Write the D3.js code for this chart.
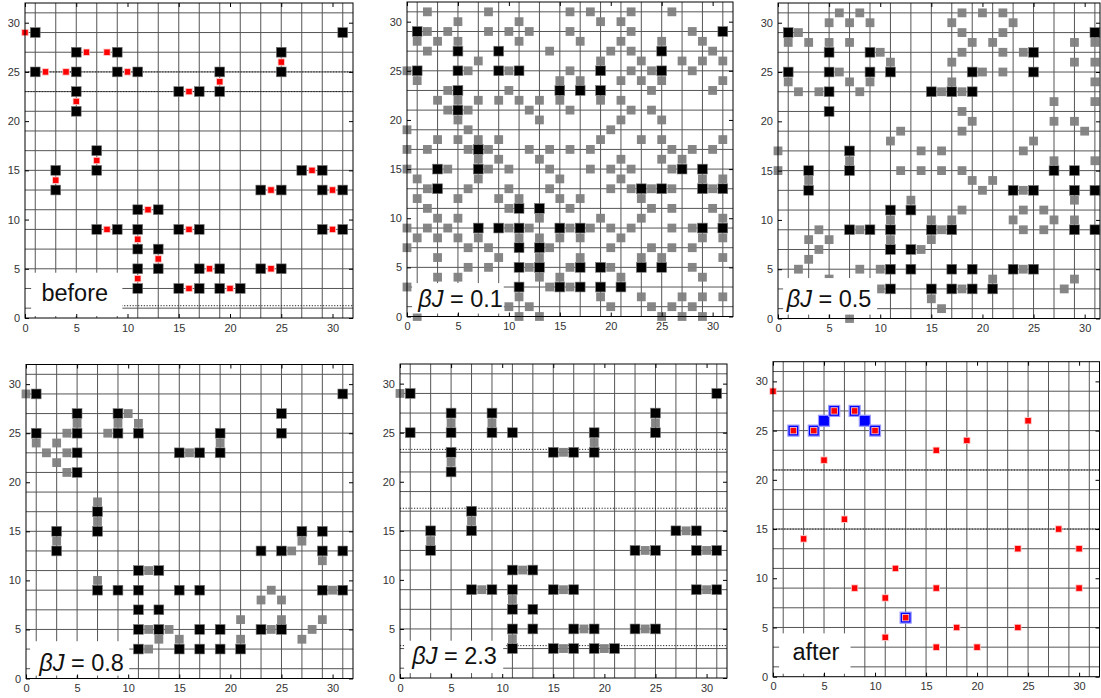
<!DOCTYPE html>
<html>
<head>
<meta charset="utf-8">
<script src="https://cdn.jsdelivr.net/npm/d3@7"></script>
<style>
  body { margin: 0; background: #fff; }
  text { font-family: "Liberation Sans", Arial, sans-serif; }
</style>
</head>
<body>
<svg id="chart" width="1101" height="698"></svg>
<script>
// ---- data ----
const ticks = [0, 5, 10, 15, 20, 25, 30];
const gridLines = [1, 3, 5, 7, 9, 11, 13, 15, 17, 19, 21, 23, 25, 27, 29, 31];

// black nodes (shared by the first five panels)
const blackNodes = [
  [1, 29], [31, 29], [5, 27], [9, 27], [25, 27], [1, 25], [5, 25], [9, 25], [11, 25], [19, 25], [25, 25],
  [5, 23], [15, 23], [17, 23], [19, 23], [5, 21], [7, 17], [3, 15], [7, 15], [27, 15], [29, 15],
  [3, 13], [23, 13], [25, 13], [29, 13], [31, 13], [11, 11], [13, 11],
  [7, 9], [9, 9], [11, 9], [15, 9], [17, 9], [29, 9], [31, 9], [11, 7], [13, 7],
  [11, 5], [13, 5], [17, 5], [19, 5], [23, 5], [25, 5], [11, 3], [15, 3], [17, 3], [19, 3], [21, 3]
];

// red sites ("before" and "after")
const redSites = [
  [0, 29], [2, 25], [4, 25], [6, 27], [8, 27], [10, 25], [5, 22], [16, 23], [19, 24], [25, 26],
  [3, 14], [7, 16], [28, 15], [24, 13], [30, 13], [12, 11], [8, 9], [16, 9], [30, 9], [11, 8],
  [13, 6], [18, 5], [24, 5], [11, 4], [16, 3], [20, 3]
];

// blue sites in "after"
const blueSites = [[2, 25], [4, 25], [5, 26], [6, 27], [8, 27], [9, 26], [10, 25], [13, 6]];

// gray sites, βJ = 0.1 (rows: y, xs)
const gray01Rows = [
  [31, [2, 8, 16, 18, 22, 26]],
  [30, [5, 11, 19, 21]],
  [29, [2, 4, 8, 10, 12, 16, 22, 28]],
  [28, [1, 3, 5, 11, 17, 21, 25, 29]],
  [27, [2, 14, 20, 22, 30]],
  [26, [7, 19, 23, 27, 29, 31]],
  [25, [0, 6, 10, 16, 22, 24, 28]],
  [24, [1, 15, 17, 21, 23, 25, 31]],
  [23, [4, 10, 24, 30]],
  [22, [3, 5, 7, 9, 11, 13, 15, 19, 21]],
  [21, [4, 6, 12, 16, 22, 24]],
  [20, [5, 13, 21, 25]],
  [19, [0, 6, 20]],
  [18, [3, 5, 7, 9, 19, 23, 25, 31]],
  [17, [0, 2, 6, 8, 12, 14, 16, 18, 26, 28, 30]],
  [16, [7, 9, 13, 21, 25, 27]],
  [15, [0, 4, 8, 10, 14, 18, 20, 22, 26]],
  [14, [1, 7, 15, 21, 29, 31]],
  [13, [2, 6, 10, 14, 20, 22, 24, 26, 30]],
  [12, [1, 5, 9, 11, 15, 17, 23]],
  [11, [2, 10, 16, 24, 26, 30]],
  [10, [3, 5, 13, 19, 23, 31]],
  [9, [0, 2, 4, 10, 12, 16, 18, 20, 22, 26, 28]],
  [8, [1, 3, 5, 7, 11, 13, 15, 17, 21, 29, 31]],
  [7, [0, 6, 8, 14, 20, 24, 26, 28]],
  [6, [3, 9, 13, 17, 23, 25, 31]],
  [5, [6, 8, 12, 16, 20, 28]],
  [4, [3, 5, 13, 15, 21, 29]],
  [3, [0, 14, 16]],
  [2, [11, 19, 23, 27, 29, 31]],
  [1, [10, 12, 20, 24, 26, 28]],
  [0, [1, 11, 13, 25, 27, 29]]
];

// gray sites, βJ = 0.5
const gray05Rows = [
  [31, [6, 8, 18, 20, 22]],
  [30, [5, 7, 9, 17, 23]],
  [29, [2, 18, 22]],
  [28, [1, 3, 5, 7, 19, 21, 29, 31]],
  [27, [10, 18, 22, 24]],
  [26, [11, 17, 29, 31]],
  [25, [6, 20, 22]],
  [24, [1, 7, 9, 17, 31]],
  [23, [2, 4, 8, 16, 18]],
  [22, [27, 31]],
  [21, [18]],
  [20, [19, 27, 29]],
  [19, [12, 18, 30]],
  [18, [11, 25]],
  [17, [0, 14, 16, 24]],
  [16, [7, 27, 31]],
  [15, [0, 12, 14, 16, 18]],
  [14, [3, 19, 21]],
  [13, [20, 24]],
  [12, [13, 29]],
  [11, [18, 24, 26]],
  [10, [11, 15, 17, 23, 27, 29]],
  [9, [4, 8, 16, 24, 26]],
  [8, [3, 5, 11, 15]],
  [7, [4, 14]],
  [6, [3]],
  [5, [2, 8, 10, 24]],
  [4, [5, 21, 29]],
  [3, [10, 18, 28]],
  [2, [15]],
  [1, [16]],
  [0, [7]]
];

// gray sites, βJ = 0.8
const gray08 = [
  [0, 29], [1, 24], [2, 23], [3, 24], [3, 22], [4, 23], [4, 21], [4, 25], [5, 26], [8, 25], [9, 26],
  [10, 27], [11, 26], [16, 23], [19, 24], [7, 18], [7, 16], [3, 14], [7, 10], [12, 11], [12, 5],
  [14, 5], [13, 4], [15, 4], [12, 3], [21, 6], [21, 4], [23, 8], [24, 9], [25, 8], [25, 6], [24, 5],
  [27, 4], [28, 5], [29, 6], [26, 13], [27, 14], [29, 12], [30, 9]
];

// gray sites, βJ = 2.3
const gray23 = [
  [0, 29], [5, 26], [9, 26], [5, 22], [16, 23], [19, 24], [25, 26], [7, 16], [3, 14], [8, 9],
  [12, 11], [11, 8], [11, 4], [16, 9], [18, 5], [24, 5], [16, 3], [20, 3], [24, 13], [30, 13],
  [28, 15], [30, 9]
];

// dotted lines: [y, xFrom, xTo]
const dotBefore = [[25, 0, 32], [23, 0, 32], [1.25, 9.4, 32]];
const dot23 = [[23.3, 0, 32], [17.3, 0, 32], [3.3, 10.4, 32], [3.3, 0, 0.4]];
const dotAfter = [[21, 0, 32], [15, 0, 32]];

const rowsToSites = rows => rows.flatMap(([y, xs]) => xs.map(x => [x, y]));

// ---- layout ----
const panels = [
  { x0: 25, x1: 353, xMax: 32, yTop: 3, yBot: 318,
    gray: [], black: blackNodes, red: redSites, blue: [], dots: dotBefore,
    label: [["before", false]], lx: 1.6, ly: 1.7, box: [0.6, 9.5, 0.2, 4.6] },
  { x0: 407, x1: 733, xMax: 32, yTop: 2, yBot: 316.5,
    gray: rowsToSites(gray01Rows), black: blackNodes, red: [], blue: [], dots: [],
    label: [["β", true], ["J", true], [" = 0.1", false]], lx: 1.1, ly: 1.0, box: [0.5, 9.5, 0.3, 3.4] },
  { x0: 778, x1: 1100, xMax: 31.5, yTop: 3, yBot: 318.5,
    gray: rowsToSites(gray05Rows), black: blackNodes, red: [], blue: [], dots: [],
    label: [["β", true], ["J", true], [" = 0.5", false]], lx: 0.85, ly: 1.2, box: [0.5, 9.7, 0.4, 4.1] },
  { x0: 26, x1: 353, xMax: 32, yTop: 364.5, yBot: 678.5,
    gray: gray08, black: blackNodes, red: [], blue: [], dots: [],
    label: [["β", true], ["J", true], [" = 0.8", false]], lx: 1.3, ly: 0.8, box: [0.4, 10.1, 0.3, 3.8] },
  { x0: 400, x1: 727, xMax: 32, yTop: 364, yBot: 678,
    gray: gray23, black: blackNodes, red: [], blue: [], dots: dot23,
    label: [["β", true], ["J", true], [" = 2.3", false]], lx: 1.2, ly: 1.4, box: [0.4, 10.1, 0.5, 3.8] },
  { x0: 773, x1: 1099.5, xMax: 32, yTop: 361.7, yBot: 676.7,
    gray: [], black: [], red: redSites, blue: blueSites, dots: dotAfter,
    label: [["after", false]], lx: 1.9, ly: 1.7, box: [0.6, 7.6, 0.3, 4.4] }
];

const svg = d3.select('#chart');
svg.append('rect').attr('width', 1101).attr('height', 698).attr('fill', '#fff');

function drawPanel(p) {
  const x = d3.scaleLinear().domain([0, p.xMax]).range([p.x0, p.x1]);
  const y = d3.scaleLinear().domain([0, 32]).range([p.yBot, p.yTop]);
  const g = svg.append('g');

  // grid
  g.selectAll('.vg').data(gridLines.filter(v => v < p.xMax)).enter().append('line')
    .attr('x1', d => x(d)).attr('x2', d => x(d)).attr('y1', p.yTop).attr('y2', p.yBot)
    .attr('stroke', '#555').attr('stroke-width', 1);
  g.selectAll('.hg').data(gridLines).enter().append('line')
    .attr('x1', p.x0).attr('x2', p.x1).attr('y1', d => y(d)).attr('y2', d => y(d))
    .attr('stroke', '#555').attr('stroke-width', 1);

  // dotted lines
  g.selectAll('.dot').data(p.dots).enter().append('line')
    .attr('x1', d => x(d[1])).attr('x2', d => Math.min(x(d[2]), p.x1))
    .attr('y1', d => y(d[0])).attr('y2', d => y(d[0]))
    .attr('stroke', '#222').attr('stroke-width', 1).attr('stroke-dasharray', '1.2,1.6');

  const square = (sel, data, size, fill) => sel.selectAll(null).data(data).enter().append('rect')
    .attr('x', d => x(d[0]) - size / 2).attr('y', d => y(d[1]) - size / 2)
    .attr('width', size).attr('height', size).attr('fill', fill);

  square(g, p.gray, 8.8, '#808080').attr('opacity', 0.95);
  square(g, p.black, 9.8, '#000').attr('stroke', '#777').attr('stroke-width', 0.6);
  square(g, p.blue, 11, '#0000ff').attr('stroke', '#9a9aff').attr('stroke-width', 1.2);
  square(g, p.red, 6.4, '#ff0000').attr('stroke', '#ffd0d0').attr('stroke-width', 0.8);

  // label box and text
  g.append('rect')
    .attr('x', x(p.box[0])).attr('y', y(p.box[3]))
    .attr('width', x(p.box[1]) - x(p.box[0])).attr('height', y(p.box[2]) - y(p.box[3]))
    .attr('fill', '#fff');
  const t = g.append('text').attr('x', x(p.lx)).attr('y', y(p.ly))
    .attr('font-size', 23.5).attr('fill', '#111');
  p.label.forEach(([s, it]) => {
    t.append('tspan').attr('font-style', it ? 'italic' : 'normal').text(s);
  });

  // axes with inward ticks
  const axisStyle = a => { a.select('.domain').remove(); a.selectAll('line').attr('stroke', '#000'); a.selectAll('text').attr('fill', '#333').attr('font-size', 11); };
  g.append('g').attr('transform', `translate(0,${p.yBot})`)
    .call(d3.axisBottom(x).tickValues(ticks).tickSize(-4).tickPadding(6)).call(axisStyle);
  g.append('g').attr('transform', `translate(0,${p.yTop})`)
    .call(d3.axisTop(x).tickValues(ticks).tickSize(-4).tickFormat('')).call(axisStyle);
  g.append('g').attr('transform', `translate(${p.x0},0)`)
    .call(d3.axisLeft(y).tickValues(ticks).tickSize(-4).tickPadding(5)).call(axisStyle);
  g.append('g').attr('transform', `translate(${p.x1},0)`)
    .call(d3.axisRight(y).tickValues(ticks).tickSize(-4).tickFormat('')).call(axisStyle);

  g.append('rect').attr('x', p.x0).attr('y', p.yTop)
    .attr('width', p.x1 - p.x0).attr('height', p.yBot - p.yTop)
    .attr('fill', 'none').attr('stroke', '#000').attr('stroke-width', 1);
}

panels.forEach(drawPanel);
</script>
</body>
</html>
